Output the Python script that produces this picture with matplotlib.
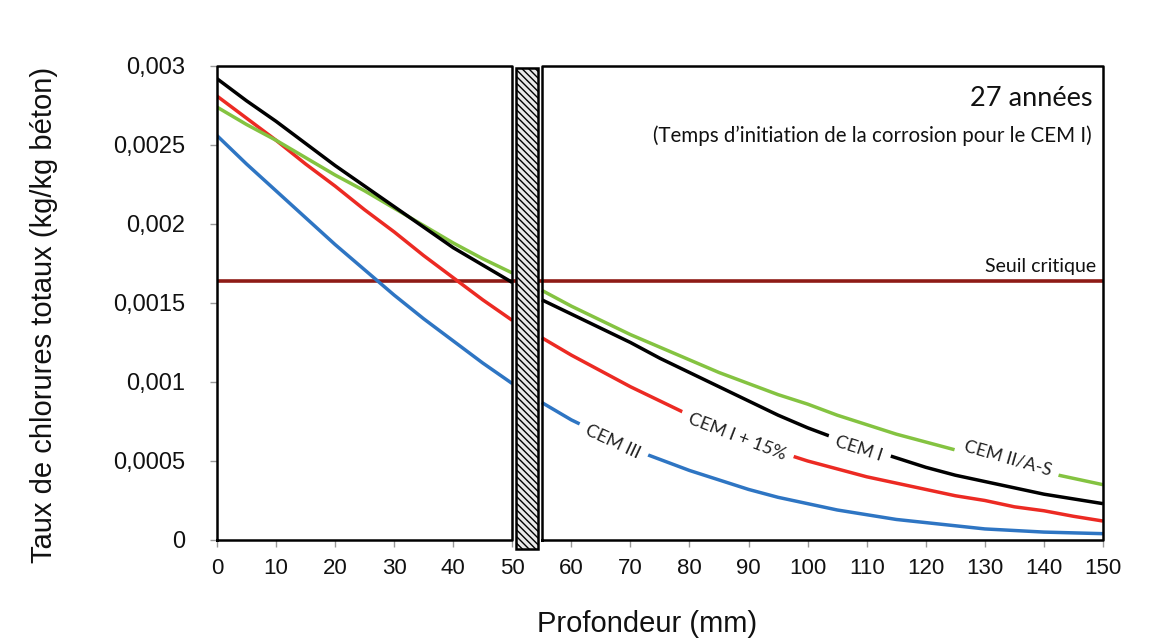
import matplotlib.pyplot as plt
from matplotlib.patches import Rectangle

# depths (mm) on each side of the rebar
depth_left = list(range(0, 51, 5))
depth_right = list(range(55, 151, 5))

# total chloride content (kg/kg concrete)
cem1_left = [0.00292, 0.00278, 0.00265, 0.00251, 0.00237, 0.00224,
             0.00211, 0.00198, 0.00185, 0.00174, 0.00163]
cem1_right = [0.00152, 0.00143, 0.00134, 0.00125, 0.00115, 0.00106, 0.00097,
              0.00088, 0.00079, 0.00071, 0.00064, 0.00058, 0.00052, 0.00046,
              0.00041, 0.00037, 0.00033, 0.00029, 0.00026, 0.00023]
cem2_left = [0.00274, 0.00263, 0.00253, 0.00242, 0.00231, 0.00221,
             0.00210, 0.00199, 0.00188, 0.00178, 0.00169]
cem2_right = [0.00158, 0.00148, 0.00139, 0.00130, 0.00122, 0.00114, 0.00106,
              0.00099, 0.00092, 0.00086, 0.00079, 0.00073, 0.00067, 0.00062,
              0.00057, 0.00052, 0.00047, 0.00043, 0.00039, 0.00035]
cem15_left = [0.00281, 0.00267, 0.00253, 0.00238, 0.00224, 0.00209,
              0.00195, 0.00180, 0.00166, 0.00152, 0.00139]
cem15_right = [0.00128, 0.00117, 0.00107, 0.00097, 0.00088, 0.00079, 0.00071,
               0.00063, 0.00056, 0.00050, 0.00045, 0.00040, 0.00036, 0.00032,
               0.00028, 0.00025, 0.00021, 0.000185, 0.00015, 0.00012]
cem3_left = [0.00256, 0.00238, 0.00221, 0.00204, 0.00187, 0.00171,
             0.00155, 0.00140, 0.00126, 0.00112, 0.00099]
cem3_right = [0.00087, 0.00076, 0.00067, 0.00058, 0.00051, 0.00044, 0.00038,
              0.00032, 0.00027, 0.00023, 0.00019, 0.00016, 0.00013, 0.00011,
              0.00009, 0.00007, 0.00006, 0.00005, 0.000045, 0.00004]

seuil = 0.00164

x_ticks = list(range(0, 151, 10))
y_ticks = [0, 0.0005, 0.001, 0.0015, 0.002, 0.0025, 0.003]
y_labels = ['0', '0,0005', '0,001', '0,0015', '0,002', '0,0025', '0,003']

fig = plt.figure(figsize=(11.62, 6.42), dpi=100)
ax = fig.add_axes([0.1867, 0.1589, 0.7625, 0.7383])
ax.set_xlim(0, 150)
ax.set_ylim(0, 0.003)
for s in ax.spines.values():
    s.set_visible(False)

black = '#000000'
green = '#84c341'
red = '#ec2a23'
blue = '#2e75c3'

ax.axhline(seuil, color='#8e1b16', lw=2.6, zorder=2)

series = [(cem3_left, cem3_right, blue),
          (cem15_left, cem15_right, red),
          (cem2_left, cem2_right, green),
          (cem1_left, cem1_right, black)]
for left, right, c in series:
    ax.plot(depth_left, left, color=c, lw=2.5, solid_capstyle='butt', zorder=3)
    ax.plot(depth_right, right, color=c, lw=2.5, solid_capstyle='butt', zorder=3)

# curve labels sitting in gaps of the curves
lab = dict(family='Lato', fontsize=13, color='#222222', ha='center', va='center',
           rotation_mode='anchor', zorder=4,
           bbox=dict(facecolor='white', edgecolor='none', pad=6))
ax.text(67.0, 0.00062, 'CEM III', rotation=-25, **lab)
ax.text(88.0, 0.00065, 'CEM I + 15%', rotation=-21, **lab)
ax.text(108.7, 0.00058, 'CEM I', rotation=-18, **lab)
ax.text(133.9, 0.00052, 'CEM II/A-S', rotation=-16, **lab)

ax.text(148.8, 0.00168, 'Seuil critique', family='Lato', fontsize=14, color='#111111',
        ha='right', va='bottom')
ax.text(0.988, 0.932, '27 années', transform=ax.transAxes, family='Lato',
        fontsize=19.5, color='#111111', ha='right', va='center')
ax.text(0.987, 0.853, '(Temps d\u2019initiation de la corrosion pour le CEM I)',
        transform=ax.transAxes, family='Lato', fontsize=14.8, color='#111111',
        ha='right', va='center')

# rebar cross-section between the two boxes
rebar = Rectangle((50.6, -0.00006), 3.8, 0.003045, facecolor='#e8e8e8', edgecolor='black',
                  hatch='\\\\\\\\\\', lw=1.8, clip_on=False, zorder=5)
ax.add_patch(rebar)

# the two framed boxes
kw = dict(color='black', lw=1.8, clip_on=False, zorder=6, solid_capstyle='projecting')
ax.plot([0, 50, 50, 0, 0], [0, 0, 0.003, 0.003, 0], **kw)
ax.plot([55, 150, 150, 55, 55], [0, 0, 0.003, 0.003, 0], **kw)

ax.set_xticks(x_ticks)
ax.set_xticklabels([str(t) for t in x_ticks], family='Liberation Sans')
ax.set_yticks(y_ticks)
ax.set_yticklabels(y_labels, family='Liberation Sans')
ax.tick_params(axis='x', length=5, width=1, color='#999999', pad=8,
               labelsize=16, labelcolor='#111111')
ax.tick_params(axis='y', length=5, width=1, color='#999999', pad=18,
               labelsize=17, labelcolor='#111111')

fig.text(0.038, 0.51, 'Taux de chlorures totaux (kg/kg béton)', rotation=90,
         family='Liberation Sans', fontsize=21, color='#111111', ha='center', va='center')
fig.text(0.557, 0.028, 'Profondeur (mm)', family='Liberation Sans', fontsize=21,
         color='#111111', ha='center', va='center')

fig.savefig('out.png', dpi=100, facecolor='white')
